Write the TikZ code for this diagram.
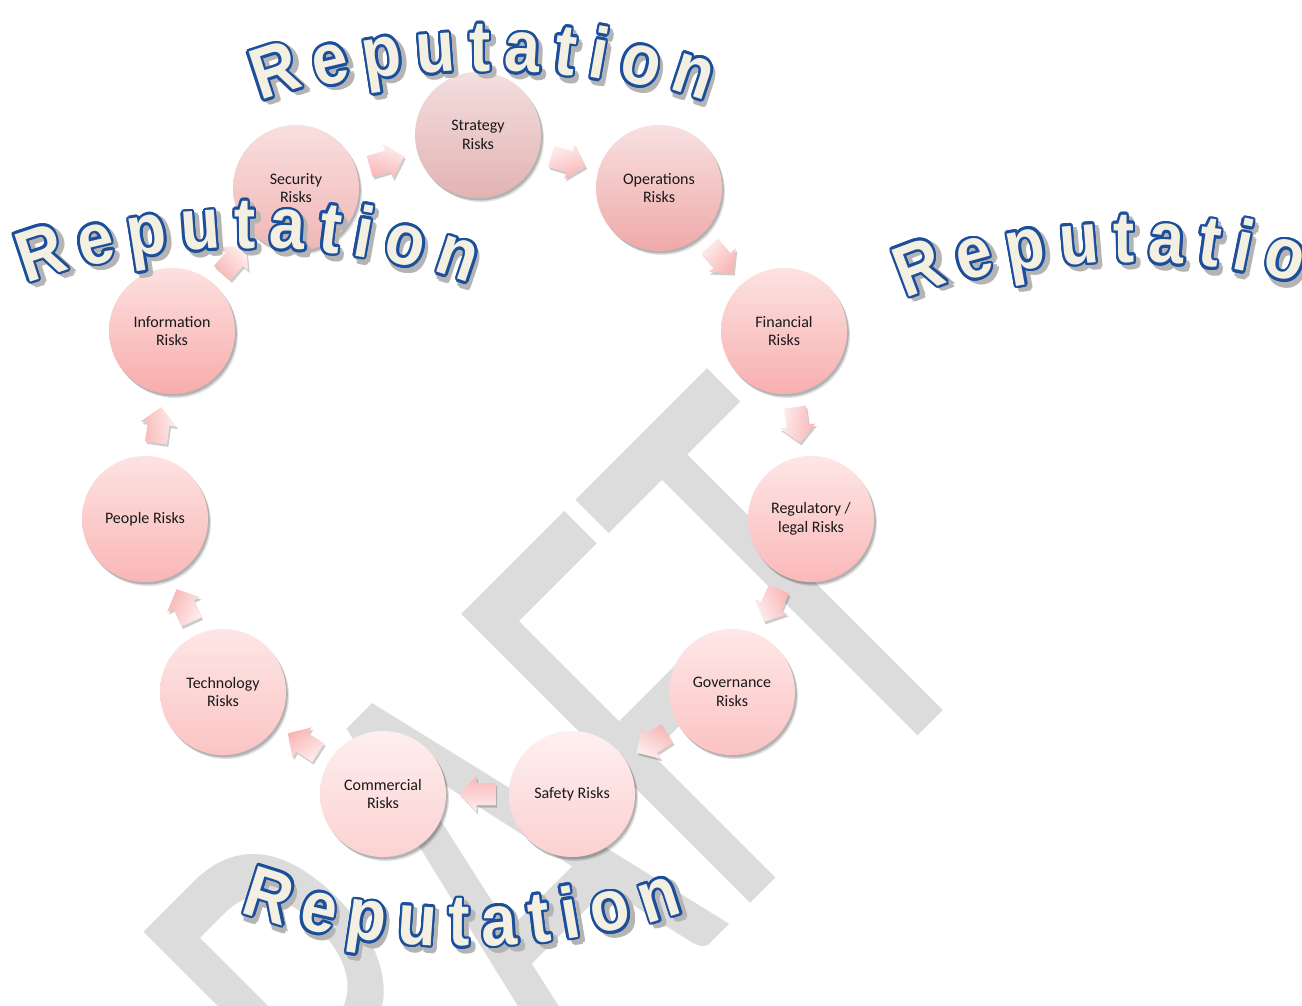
\documentclass[tikz,border=0pt]{standalone}
\usepackage{fontspec}
\usepackage{graphicx}
\usetikzlibrary{calc,shadows}
\newfontfamily\cfont{Carlito}
\newfontfamily\wafont{Liberation Sans}
\newfontfamily\wmfont{Carlito}
\definecolor{wafill}{HTML}{F3F0E2}
\definecolor{waedge}{HTML}{1B4E9B}
\definecolor{wash}{HTML}{B4B4B4}
\definecolor{wmgrey}{HTML}{DCDCDC}
\definecolor{arrtop}{HTML}{FEEEEE}
\definecolor{arrbot}{HTML}{F9B6B6}
\definecolor{strT}{HTML}{F3DEDE}\definecolor{strB}{HTML}{E3B3B3}
\definecolor{opsT}{HTML}{F8E0E0}\definecolor{opsB}{HTML}{EFA9A9}
\definecolor{finT}{HTML}{FDE2E2}\definecolor{finB}{HTML}{F8AFAF}
\definecolor{regT}{HTML}{FEE6E6}\definecolor{regB}{HTML}{FBB8B8}
\definecolor{govT}{HTML}{FEE8E8}\definecolor{govB}{HTML}{FCC2C2}
\definecolor{safT}{HTML}{FEF0F0}\definecolor{safB}{HTML}{FCD0D0}
\definecolor{comT}{HTML}{FEEEEE}\definecolor{comB}{HTML}{FCD2D2}
\definecolor{tecT}{HTML}{FEE6E6}\definecolor{tecB}{HTML}{FBC4C4}
\definecolor{peoT}{HTML}{FDE2E2}\definecolor{peoB}{HTML}{FAB6B6}
\definecolor{infT}{HTML}{FDE0E0}\definecolor{infB}{HTML}{F8ACAC}
\definecolor{secT}{HTML}{F9DEDE}\definecolor{secB}{HTML}{F1B6B6}
\newcommand\olc[3]{\rlap{\kern#1\raise#2\hbox{#3}}}
\newcommand\walraw[1]{%
\olc{4pt}{-4pt}{\color{wash}#1}\olc{6.8pt}{-4pt}{\color{wash}#1}\olc{1.2pt}{-4pt}{\color{wash}#1}%
\olc{4pt}{-1.2pt}{\color{wash}#1}\olc{4pt}{-6.8pt}{\color{wash}#1}\olc{6pt}{-2pt}{\color{wash}#1}%
\olc{2pt}{-2pt}{\color{wash}#1}\olc{6pt}{-6pt}{\color{wash}#1}\olc{2pt}{-6pt}{\color{wash}#1}%
\olc{2.4pt}{0pt}{\color{waedge}#1}\olc{2.22pt}{0.92pt}{\color{waedge}#1}\olc{1.7pt}{1.7pt}{\color{waedge}#1}%
\olc{0.92pt}{2.22pt}{\color{waedge}#1}\olc{0pt}{2.4pt}{\color{waedge}#1}\olc{-0.92pt}{2.22pt}{\color{waedge}#1}%
\olc{-1.7pt}{1.7pt}{\color{waedge}#1}\olc{-2.22pt}{0.92pt}{\color{waedge}#1}\olc{-2.4pt}{0pt}{\color{waedge}#1}%
\olc{-2.22pt}{-0.92pt}{\color{waedge}#1}\olc{-1.7pt}{-1.7pt}{\color{waedge}#1}\olc{-0.92pt}{-2.22pt}{\color{waedge}#1}%
\olc{0pt}{-2.4pt}{\color{waedge}#1}\olc{0.92pt}{-2.22pt}{\color{waedge}#1}\olc{1.7pt}{-1.7pt}{\color{waedge}#1}%
\olc{2.22pt}{-0.92pt}{\color{waedge}#1}%
{\color{wafill}#1}}
\newcommand\wal[1]{\scalebox{1}[1.13]{\walraw{#1}}}
% cx, cy, arc radius, tilt factor, sign (1 arch up, -1 arch down), id
\newcommand\repword[6]{%
  \foreach \l/\s [count=\i] in {R/-202.5,e/-148.6,p/-98.25,u/-46.15,t/-2.95,a/38.5,t/79.95,i/112.5,o/153.95,n/206.05}{%
    \pgfmathsetmacro\ph{deg(\s/#3)}%
    \pgfmathsetmacro\px{#1+#3*sin(\ph)}%
    \pgfmathsetmacro\py{#2+(#5)*#3*(1-cos(\ph))}%
    \pgfmathsetmacro\rt{0-(#5)*(#4)*(\ph)}%
    \node[waletter, rotate=\rt] (rep#6\i) at (\px,\py) {\wal{\l}};
  }}
% block arrow between two named circles
\newcommand\cyc[2]{%
  \pgfmathanglebetweenpoints{\pgfpointanchor{#1}{center}}{\pgfpointanchor{#2}{center}}%
  \let\arang\pgfmathresult
  \begin{scope}[shift={($(#1)!0.5!(#2)$)}]
    \fill[black, opacity=0.2, shift={(1.5pt,-2.5pt)}, rotate=\arang]
      (-18,-11) -- (1,-11) -- (1,-18) -- (18,0) -- (1,18) -- (1,11) -- (-18,11) -- cycle;
    \shade[rotate=\arang, top color=arrtop, bottom color=arrbot, shading angle=-\arang]
      (-18,-11) -- (1,-11) -- (1,-18) -- (18,0) -- (1,18) -- (1,11) -- (-18,11) -- cycle;
  \end{scope}}
\begin{document}
\begin{tikzpicture}[x=1pt, y=-1pt,
  riskc/.style={circle, minimum size=126pt, inner sep=0pt, align=center,
    font=\cfont\fontsize{16}{18.5}\selectfont, text=black!90,
    general shadow={shadow xshift=3pt, shadow yshift=-4pt, fill=black, opacity=0.12},
    general shadow={shadow xshift=1.8pt, shadow yshift=-2.5pt, fill=black, opacity=0.2}},
  waletter/.style={anchor=base, inner sep=0pt, font=\wafont\bfseries\fontsize{64}{64}\selectfont},
  wm/.style={rotate=45, anchor=base east, inner sep=0pt, text=wmgrey,
    font=\wmfont\fontsize{637}{637}\selectfont}]
\useasboundingbox (0,0) rectangle (1302,1005);
\clip (0,0) rectangle (1302,1005);
\fill[white] (0,0) rectangle (1302,1005);
% watermark
\node[wm] (draft) at (1000,654) {\scalebox{0.63}[1]{DRAFT}};
% circles
\node[riskc, top color=strT, bottom color=strB] (str) at (478,135) {Strategy\\Risks};
\node[riskc, top color=opsT, bottom color=opsB] (ops) at (659,188) {Operations\\Risks};
\node[riskc, top color=finT, bottom color=finB] (fin) at (784,331) {Financial\\Risks};
\node[riskc, top color=regT, bottom color=regB] (reg) at (811,519) {Regulatory /\\legal Risks};
\node[riskc, top color=govT, bottom color=govB] (gov) at (732,692) {Governance\\Risks};
\node[riskc, top color=safT, bottom color=safB] (saf) at (572,794) {Safety Risks};
\node[riskc, top color=comT, bottom color=comB] (com) at (383,794) {Commercial\\Risks};
\node[riskc, top color=tecT, bottom color=tecB] (tec) at (223,692) {Technology\\Risks};
\node[riskc, top color=peoT, bottom color=peoB] (peo) at (145,519) {People Risks};
\node[riskc, top color=infT, bottom color=infB] (inf) at (172,331) {Information\\Risks};
\node[riskc, top color=secT, bottom color=secB] (sec) at (296,188) {Security\\Risks};
% block arrows
\cyc{sec}{str}
\cyc{str}{ops}
\cyc{ops}{fin}
\cyc{fin}{reg}
\cyc{reg}{gov}
\cyc{gov}{saf}
\cyc{saf}{com}
\cyc{com}{tec}
\cyc{tec}{peo}
\cyc{peo}{inf}
\cyc{inf}{sec}
% WordArt
\repword{483}{71}{900}{1.4}{1}{a}
\repword{248}{248}{730}{1.15}{1}{b}
\repword{1127}{262}{730}{1.3}{1}{c}
\repword{462}{946}{760}{1.15}{-1}{d}
\end{tikzpicture}
\end{document}
